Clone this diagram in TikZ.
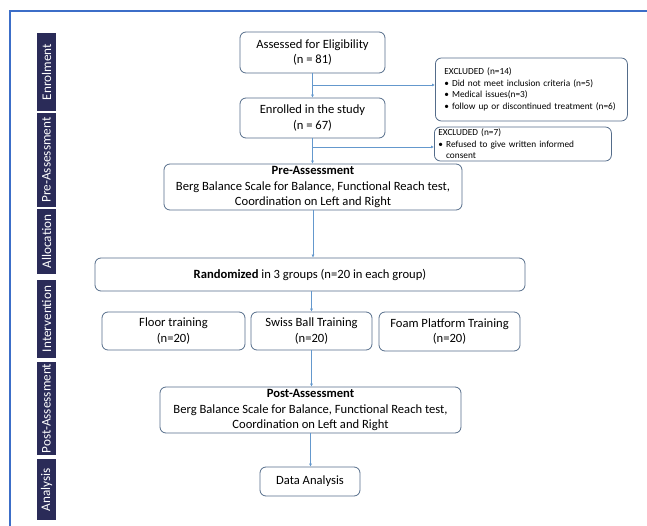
\documentclass[tikz,border=0pt]{standalone}
\usepackage{fontspec}
\setmainfont{Carlito}
\usetikzlibrary{arrows.meta}
\definecolor{lanenavy}{RGB}{42,43,88}
\definecolor{boxedge}{RGB}{84,108,138}
\definecolor{flowline}{RGB}{100,152,205}
\definecolor{frameblue}{RGB}{60,110,200}

\begin{document}
\begin{tikzpicture}[x=1pt,y=-1pt,
  box/.style={draw=boxedge,rounded corners=6pt,line width=0.8pt,align=center,
    inner sep=0pt,font=\fontsize{12.6}{15.8}\selectfont},
  exclbox/.style={draw=boxedge,rounded corners=6pt,line width=0.8pt,align=left,
    inner ysep=0pt,anchor=west,font=\fontsize{9.3}{11.6}\selectfont},
  lane/.style={fill=lanenavy,text=white,rotate=90,inner sep=0pt,
    minimum height=19pt,font=\fontsize{13.2}{14}\selectfont},
  arr/.style={draw=flowline,line width=0.7pt,-{Latex[length=3pt,width=3pt]}}]
  \useasboundingbox (0,0) rectangle (647,526);
  \draw[frameblue,line width=1.5pt] (10,526) -- (10,11) -- (647,11);
  \node[lane,minimum width=78pt] (enrolment) at (46.5,72) {Enrolment};
  \node[lane,minimum width=94pt] (preassess) at (46.5,160) {Pre-Assessment};
  \node[lane,minimum width=65pt] (allocation) at (46.5,241.5) {Allocation};
  \node[lane,minimum width=78pt] (intervention) at (46.5,319) {Intervention};
  \node[lane,minimum width=93pt] (postassess) at (46.5,408.5) {Post-Assessment};
  \node[lane,minimum width=61pt] (analysis) at (46.5,489.5) {Analysis};
  \node[box,minimum width=145pt,minimum height=41pt] (elig) at (312.5,52.5)
    {Assessed for Eligibility\\(n = 81)};
  \node[box,minimum width=145pt,minimum height=40pt] (enrol) at (312.5,118)
    {Enrolled in the study\\(n = 67)};
  \node[exclbox,minimum height=63pt,text width=174pt,inner xsep=9pt] (excl1) at (435,89.5)
    {EXCLUDED (n=14)\\
     \textbullet\ Did not meet inclusion criteria (n=5)\\
     \textbullet\ Medical issues(n=3)\\
     \textbullet\ follow up or discontinued treatment (n=6)};
  \node[exclbox,minimum height=34pt,text width=169pt,inner xsep=4pt] (excl2) at (434,144)
    {EXCLUDED (n=7)\\
     \textbullet\ Refused to give written informed\\
     \hphantom{\textbullet\ }consent};
  \node[box,minimum width=298pt,minimum height=46pt] (pre) at (313,187)
    {\textbf{Pre-Assessment}\\Berg Balance Scale for Balance, Functional Reach test,\\Coordination on Left and Right};
  \node[box,minimum width=430pt,minimum height=33pt] (rand) at (310,274.5)
    {\textbf{Randomized} in 3 groups (n=20 in each group)};
  \node[box,minimum width=143pt,minimum height=38pt] (floor) at (173.5,331)
    {Floor training\\(n=20)};
  \node[box,minimum width=121pt,minimum height=38pt] (swiss) at (311.5,331)
    {Swiss Ball Training\\(n=20)};
  \node[box,minimum width=141pt,minimum height=39pt] (foam) at (449.5,331.5)
    {Foam Platform Training\\(n=20)};
  \node[box,minimum width=301pt,minimum height=46pt] (post) at (310.5,410)
    {\textbf{Post-Assessment}\\Berg Balance Scale for Balance, Functional Reach test,\\Coordination on Left and Right};
  \node[box,minimum width=100pt,minimum height=29pt] (data) at (310,481.5)
    {Data Analysis};
  \coordinate (split1) at (312.5,85);
  \coordinate (split2) at (312.5,147);
  \draw[arr] (elig) -- (enrol);
  \draw[arr] (split1) -- (split1 -| excl1.west);
  \draw[arr] (enrol) -- (enrol.south |- pre.north);
  \draw[arr] (split2) -- (split2 -| excl2.west);
  \draw[arr] (pre.south) -- (pre.south |- rand.north);
  \draw[arr] (rand.south -| swiss) -- (swiss);
  \draw[arr] (swiss.south) -- (swiss.south |- post.north);
  \draw[arr] (post.south) -- (post.south |- data.north);
\end{tikzpicture}
\end{document}
